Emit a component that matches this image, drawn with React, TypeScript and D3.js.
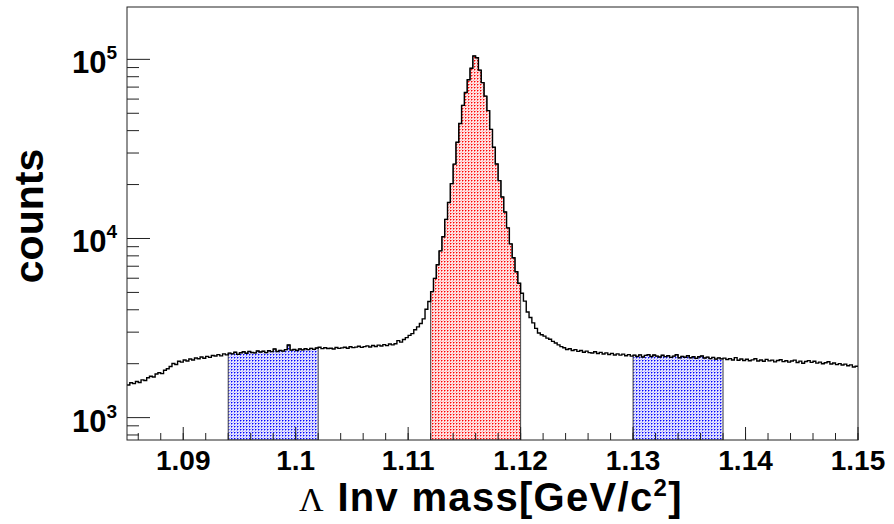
import React from "react";
import * as d3 from "d3";

// Histogram binning (GeV/c^2)
const binLow = 1.085;
const binWidth = 0.00025;

// Bin contents (counts), 260 bins from 1.085 to 1.150
const counts: number[] = [
  // 0-35
  1520, 1565, 1548, 1590, 1572, 1625, 1610, 1668, 1702, 1685,
  1752, 1781, 1760, 1838, 1875, 1930, 2005, 1978, 2062, 2040,
  2098, 2071, 2125, 2098, 2152, 2130, 2178, 2145, 2196, 2170,
  2224, 2208, 2246, 2212, 2268, 2240,
  // 36-67 (left sideband)
  2292, 2270, 2318, 2255, 2304, 2331, 2286, 2342, 2310, 2298,
  2356, 2324, 2349, 2307, 2362, 2335, 2418, 2340, 2372, 2351,
  2395, 2545, 2380, 2402, 2371, 2418, 2390, 2425, 2398, 2436,
  2404, 2446,
  // 68-107
  2470, 2428, 2455, 2432, 2441, 2418, 2462, 2436, 2450, 2472,
  2439, 2486, 2458, 2475, 2503, 2468, 2492, 2515, 2480, 2528,
  2497, 2540, 2512, 2556, 2524, 2575, 2548, 2586, 2690, 2640,
  2728, 2795, 2880, 2945, 3095, 3210, 3350, 3560, 4030, 4450,
  // 108-139 (signal window)
  5050, 5990, 7130, 8530, 10230, 12790, 15890, 20230, 26000, 34430,
  43850, 55340, 65310, 76910, 89130, 104500, 102000, 87100, 74130, 62370,
  51760, 40640, 32280, 26060, 21040, 17060, 14060, 11460, 9330, 7800,
  6516, 5623,
  // 140-179
  4943, 4470, 3890, 3620, 3380, 3150, 2965, 2900, 2850, 2780,
  2740, 2665, 2610, 2548, 2490, 2455, 2402, 2425, 2370, 2395,
  2342, 2368, 2318, 2350, 2305, 2296, 2330, 2278, 2312, 2265,
  2298, 2250, 2284, 2238, 2270, 2232, 2262, 2215, 2248, 2205,
  // 180-211 (right sideband)
  2232, 2195, 2240, 2180, 2226, 2248, 2192, 2235, 2205, 2178,
  2228, 2190, 2216, 2170, 2205, 2244, 2158, 2198, 2172, 2215,
  2160, 2190, 2142, 2185, 2210, 2150, 2176, 2135, 2168, 2122,
  2155, 2128,
  // 212-259
  2148, 2110, 2135, 2098, 2162, 2090, 2125, 2085, 2118, 2076,
  2102, 2130, 2070, 2098, 2062, 2115, 2075, 2095, 2048, 2082,
  2106, 2055, 2078, 2040, 2072, 2095, 2030, 2066, 2012, 2058,
  2080, 2035, 2062, 2015, 2040, 1998, 2026, 2050, 1992, 2018,
  1975, 2002, 1968, 1990, 1948, 1970, 1915, 1935,
];

// Selection windows [lo, hi] in GeV/c^2
const sidebandLeft = [1.094, 1.102];
const signalWindow = [1.112, 1.12];
const sidebandRight = [1.13, 1.138];

// Axes
const xDomain = [1.085, 1.15];
const yDomain = [750, 196000];
const xMajorTicks = [1.09, 1.1, 1.11, 1.12, 1.13, 1.14, 1.15];
const xTickLabels = ["1.09", "1.1", "1.11", "1.12", "1.13", "1.14", "1.15"];
const yMajorTicks = [1e3, 1e4, 1e5];
const yTickExponents = ["3", "4", "5"];

const W = 894;
const H = 524;
const m = { left: 127, right: 858, top: 7, bottom: 440 };

export default function App() {
  const x = d3.scaleLinear().domain(xDomain).range([m.left, m.right]);
  const y = d3.scaleLog().domain(yDomain).range([m.bottom, m.top]);

  const edge = (i: number) => binLow + i * binWidth;

  const stepPts: [number, number][] = [];
  counts.forEach((c, i) => {
    stepPts.push([edge(i), c]);
    stepPts.push([edge(i + 1), c]);
  });
  const line = d3
    .line<[number, number]>()
    .x((d) => x(d[0]))
    .y((d) => y(d[1]));

  const regionPath = (lo: number, hi: number) => {
    const pts: [number, number][] = [];
    counts.forEach((c, i) => {
      const a = edge(i);
      const b = edge(i + 1);
      const mid = (a + b) / 2;
      if (mid > lo && mid < hi) {
        pts.push([a, c]);
        pts.push([b, c]);
      }
    });
    const area = d3
      .area<[number, number]>()
      .x((d) => x(d[0]))
      .y0(y(yDomain[0]))
      .y1((d) => y(d[1]));
    return area(pts) || "";
  };

  const xMinor = d3.range(0, 33).map((k) => 1.086 + k * 0.002).filter((v) => v < 1.1501);
  const yMinor: number[] = [];
  [100, 1000, 10000, 100000].forEach((dec) => {
    for (let k = 2; k <= 9; k++) {
      const v = dec * k;
      if (v > yDomain[0] && v < yDomain[1]) yMinor.push(v);
    }
  });

  const sansBold = "'Liberation Sans', Arial, Helvetica, sans-serif";

  return (
    <svg
      width={W}
      height={H}
      style={{ position: "absolute", left: 0, top: 0, background: "#fff" }}
      xmlns="http://www.w3.org/2000/svg"
    >
      <defs>
        <pattern id="redPat" x="0" y="0" width="3" height="3" patternUnits="userSpaceOnUse">
          <rect width="3" height="3" fill="#ffe6e6" />
          <rect x="0" y="0" width="1" height="1" fill="#ff0000" />
          <rect x="1" y="0" width="1" height="1" fill="#ff8080" />
          <rect x="0" y="1" width="1" height="1" fill="#ff8080" />
          <rect x="2" y="2" width="1" height="1" fill="#ffb4b4" />
        </pattern>
        <pattern id="bluePat" x="0" y="0" width="3" height="3" patternUnits="userSpaceOnUse">
          <rect width="3" height="3" fill="#e6e6ff" />
          <rect x="0" y="0" width="1" height="1" fill="#0000ff" />
          <rect x="1" y="0" width="1" height="1" fill="#8080ff" />
          <rect x="0" y="1" width="1" height="1" fill="#8080ff" />
          <rect x="2" y="2" width="1" height="1" fill="#b4b4ff" />
        </pattern>
        <clipPath id="plotClip">
          <rect x={m.left} y={m.top} width={m.right - m.left} height={m.bottom - m.top} />
        </clipPath>
      </defs>

      <g clipPath="url(#plotClip)">
        <path d={regionPath(sidebandLeft[0], sidebandLeft[1])} fill="url(#bluePat)" stroke="#444" strokeWidth={1} />
        <path d={regionPath(signalWindow[0], signalWindow[1])} fill="url(#redPat)" stroke="#444" strokeWidth={1} />
        <path d={regionPath(sidebandRight[0], sidebandRight[1])} fill="url(#bluePat)" stroke="#444" strokeWidth={1} />
        <path d={line(stepPts) || ""} fill="none" stroke="#000" strokeWidth={1.4} />
      </g>

      <rect
        x={m.left}
        y={m.top}
        width={m.right - m.left}
        height={m.bottom - m.top}
        fill="none"
        stroke="#222"
        strokeWidth={1}
      />

      {xMinor.map((v, i) => (
        <line key={"xm" + i} x1={x(v)} x2={x(v)} y1={m.bottom} y2={m.bottom - 7} stroke="#222" strokeWidth={1} />
      ))}
      {xMajorTicks.map((v, i) => (
        <line key={"xM" + i} x1={x(v)} x2={x(v)} y1={m.bottom} y2={m.bottom - 13} stroke="#222" strokeWidth={1} />
      ))}
      {xMajorTicks.map((v, i) => (
        <text
          key={"xl" + i}
          x={x(v)}
          y={470}
          textAnchor="middle"
          fontFamily={sansBold}
          fontWeight="bold"
          fontSize={28}
          fill="#000"
        >
          {xTickLabels[i]}
        </text>
      ))}

      {yMinor.map((v, i) => (
        <line key={"ym" + i} x1={m.left} x2={m.left + 12} y1={y(v)} y2={y(v)} stroke="#222" strokeWidth={1} />
      ))}
      {yMajorTicks.map((v, i) => (
        <line key={"yM" + i} x1={m.left} x2={m.left + 23} y1={y(v)} y2={y(v)} stroke="#222" strokeWidth={1} />
      ))}
      {yMajorTicks.map((v, i) => (
        <text
          key={"yl" + i}
          x={117}
          y={y(v) + 14}
          textAnchor="end"
          fontFamily={sansBold}
          fontWeight="bold"
          fontSize={31}
          fill="#000"
        >
          10
          <tspan dy={-14} fontSize={19}>
            {yTickExponents[i]}
          </tspan>
        </text>
      ))}

      <text
        transform={`translate(43, 216) rotate(-90)`}
        textAnchor="middle"
        fontFamily={sansBold}
        fontWeight="bold"
        fontSize={41}
        fill="#000"
      >
        counts
      </text>

      <text x={299} y={511} fontFamily={sansBold} fontWeight="bold" fontSize={40} letterSpacing={1.3} fill="#000">
        <tspan fontFamily="'Liberation Serif', 'Times New Roman', serif" fontWeight="normal" fontSize={34}>
          Λ
        </tspan>
        <tspan> Inv mass[GeV/c</tspan>
        <tspan dy={-15} fontSize={24}>
          2
        </tspan>
        <tspan dy={15}>]</tspan>
      </text>
    </svg>
  );
}
